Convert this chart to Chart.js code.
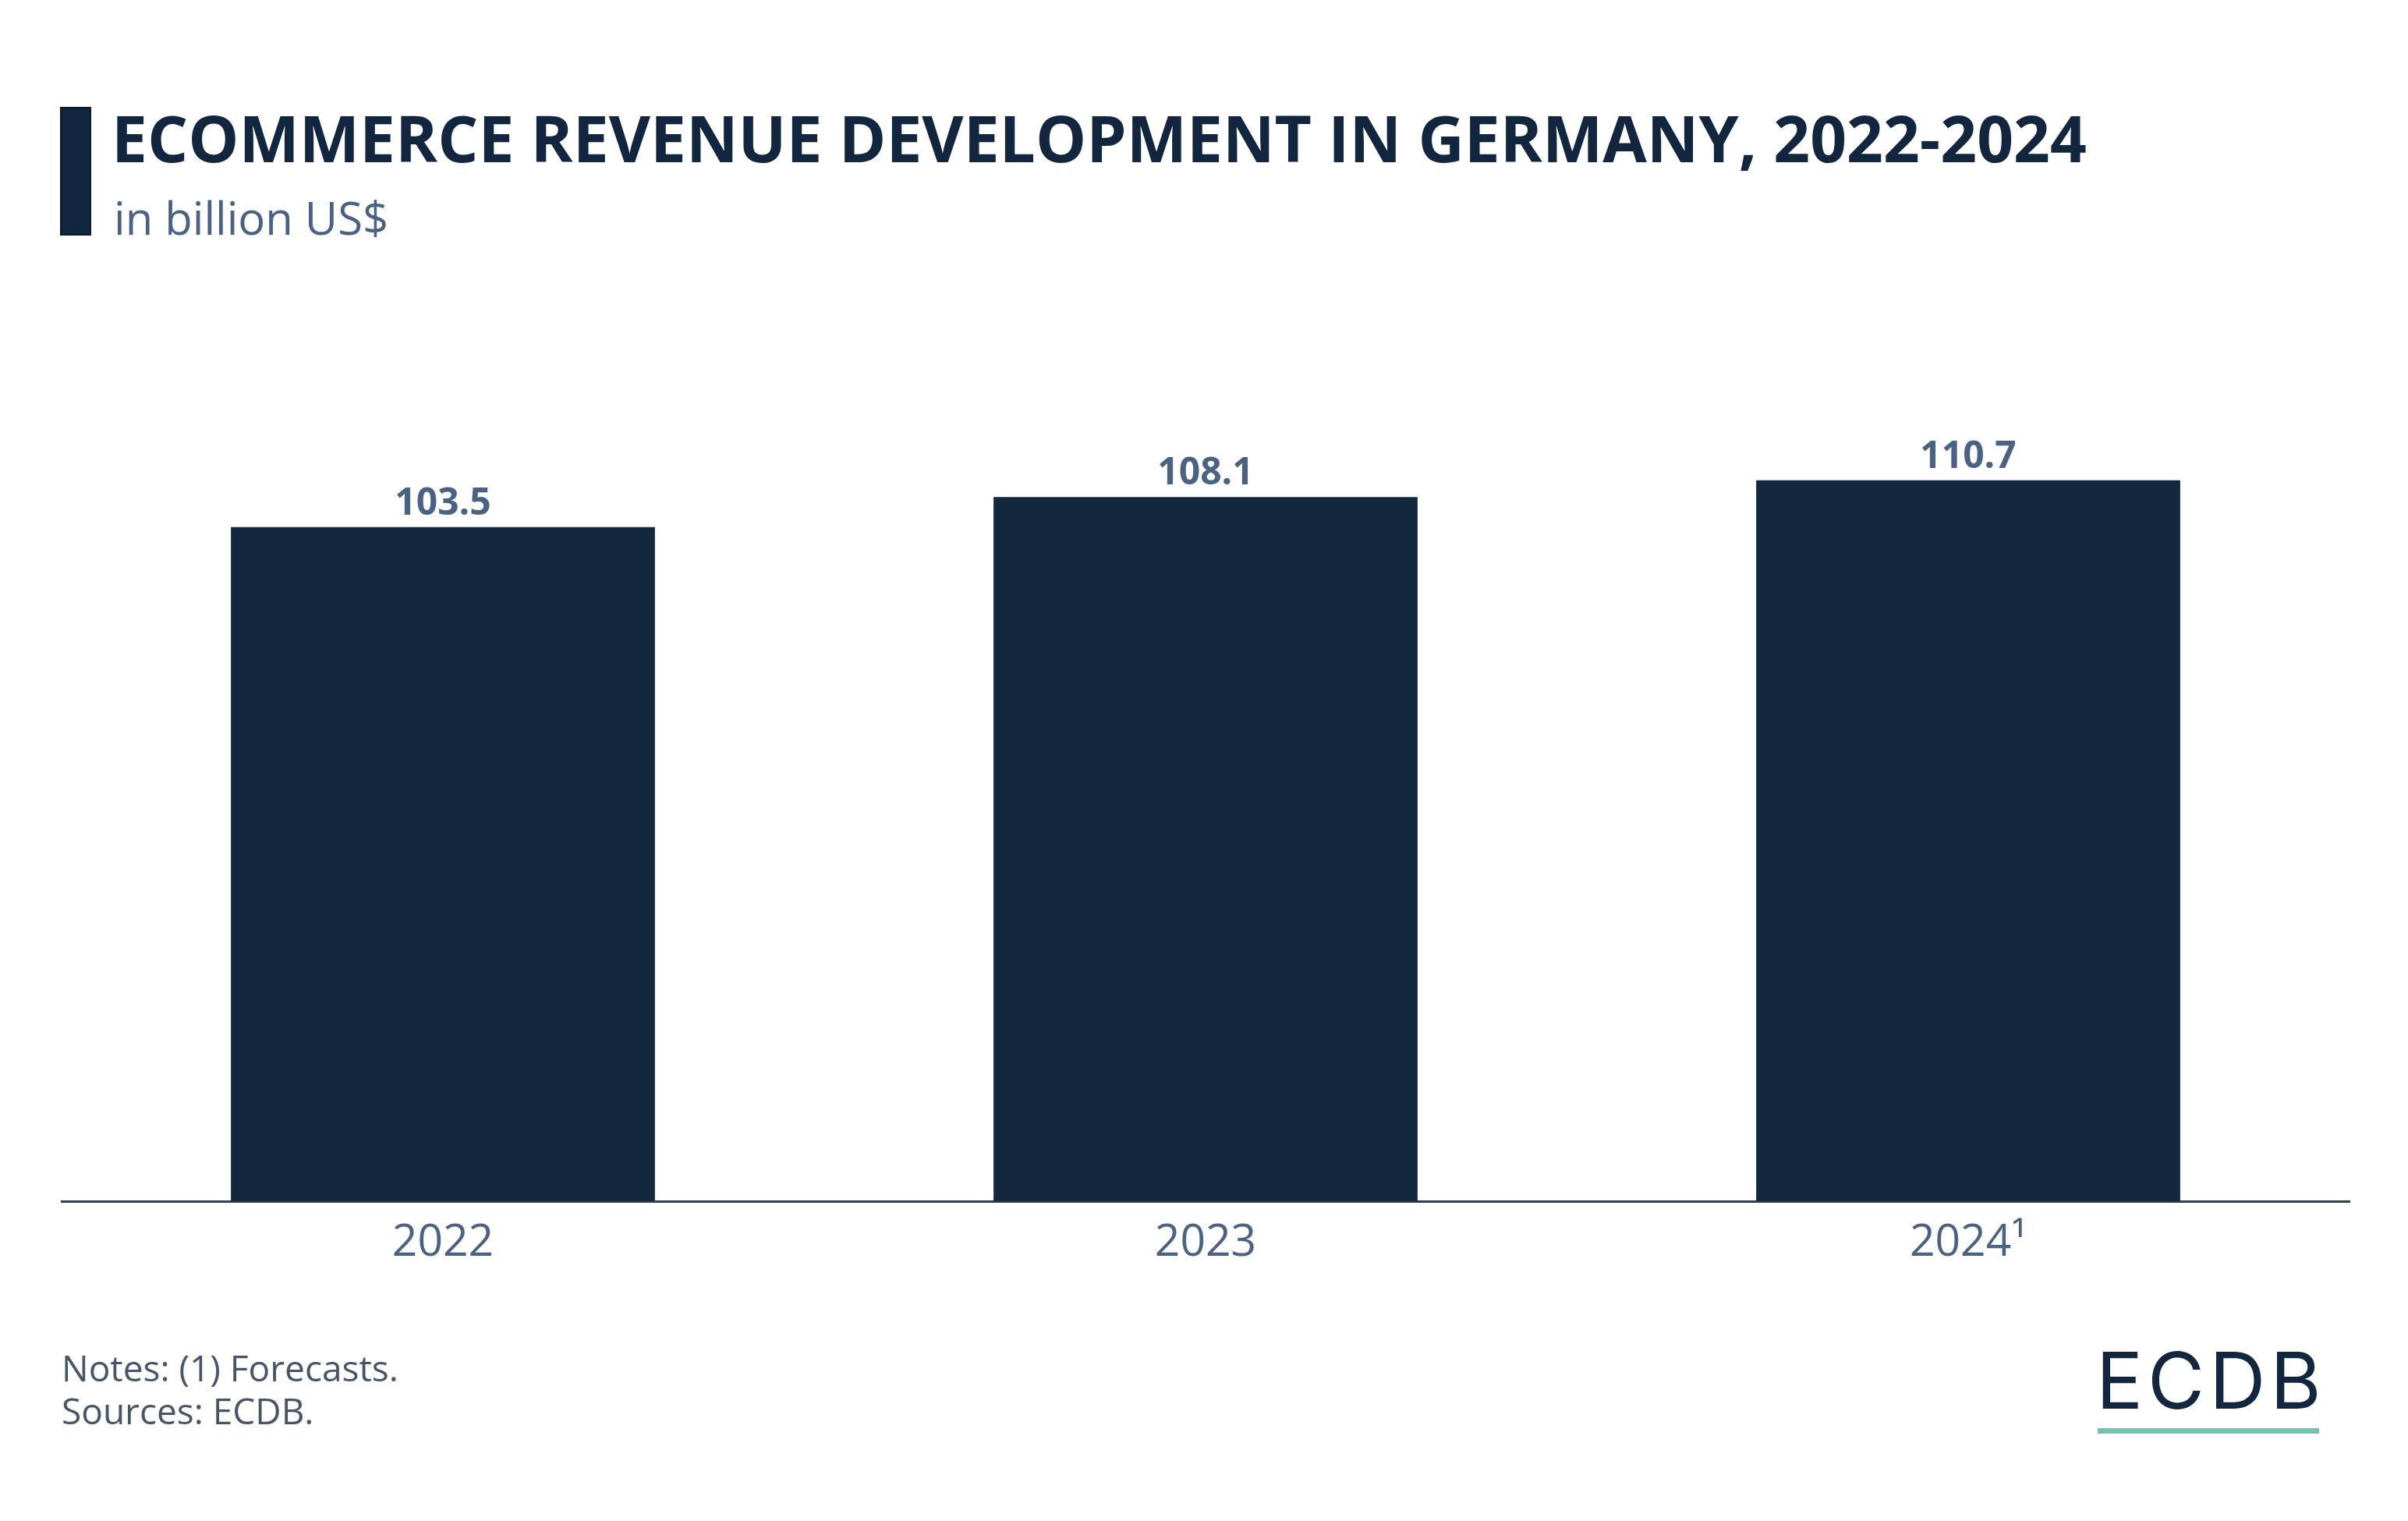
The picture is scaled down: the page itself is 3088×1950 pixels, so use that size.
<!DOCTYPE html>
<html>
<head>
<meta charset="utf-8">
<script src="https://cdn.jsdelivr.net/npm/chart.js@4/dist/chart.umd.min.js"></script>
<style>
  html, body { margin: 0; padding: 0; background: #ffffff; }
  body { width: 3088px; height: 1950px; position: relative; overflow: hidden; font-family: "Open Sans", sans-serif; }
  #wrap { position: absolute; left: 0; top: 0; width: 3088px; height: 1950px; }
  .abs { position: absolute; white-space: nowrap; line-height: 1; }
  #bar { left: 77px; top: 137px; width: 40px; height: 165px; background: #12263f; box-sizing: border-box; border: 3px solid #0d1e33; }
  #title { left: 143px; top: 135px; font-size: 82px; font-weight: 700; color: #12263f; }
  #subtitle { left: 146px; top: 250px; font-size: 58px; font-weight: 400; color: #4a6283; }
  #notes { left: 79px; top: 1726px; font-size: 46px; line-height: 55px; color: #475569; }
  #logo { left: 2688px; top: 1720px; font-family: Inter, sans-serif; font-size: 100px; font-weight: 400; color: #12263f; letter-spacing: 6px; }
  #logoline { left: 2690px; top: 1831px; width: 284px; height: 7px; background: #6fc5b0; }
</style>
</head>
<body>
<div id="wrap"><canvas id="c" width="3088" height="1950"></canvas></div>
<div class="abs" id="bar"></div>
<div class="abs" id="title">ECOMMERCE REVENUE DEVELOPMENT IN GERMANY, 2022-2024</div>
<div class="abs" id="subtitle">in billion US$</div>
<div class="abs" id="notes">Notes: (1) Forecasts.<br>Sources: ECDB.</div>
<div class="abs" id="logo">ECDB</div>
<div class="abs" id="logoline"></div>
<script>
const categories = ["2022", "2023", "2024\u00B9"];
const revenue = [103.5, 108.1, 110.7];
const valueLabels = ["103.5", "108.1", "110.7"];

const valueLabelPlugin = {
  id: 'valueLabels',
  afterDatasetsDraw(chart) {
    const ctx = chart.ctx;
    const meta = chart.getDatasetMeta(0);
    ctx.save();
    ctx.font = '700 48px "Open Sans"';
    ctx.fillStyle = '#4a6283';
    ctx.textAlign = 'center';
    ctx.textBaseline = 'alphabetic';
    meta.data.forEach((el, i) => {
      ctx.fillText(valueLabels[i], el.x, el.y - 16);
    });
    ctx.restore();
  }
};

new Chart(document.getElementById('c'), {
  type: 'bar',
  data: {
    labels: categories,
    datasets: [{
      data: revenue,
      backgroundColor: '#13283f',
      borderWidth: 0,
      categoryPercentage: 1,
      barPercentage: 0.556
    }]
  },
  options: {
    responsive: false,
    animation: false,
    devicePixelRatio: 1,
    layout: { padding: { left: 79, right: 75, top: 538, bottom: 210 } },
    plugins: { legend: { display: false }, tooltip: { enabled: false } },
    scales: {
      x: {
        grid: { display: false, drawTicks: false },
        border: { display: true, color: '#2d3f58', width: 3 },
        ticks: { color: '#4a6283', font: { family: 'Open Sans', size: 57 }, padding: 20, maxRotation: 0 },
        afterFit: (s) => { s.height = 200; }
      },
      y: {
        display: false,
        min: 0,
        max: 120
      }
    }
  },
  plugins: [valueLabelPlugin]
});
</script>
</body>
</html>
